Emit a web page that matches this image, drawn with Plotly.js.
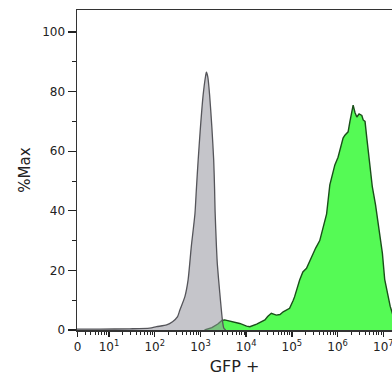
<!DOCTYPE html>
<html>
<head>
<meta charset="utf-8">
<script src="https://cdn.plot.ly/plotly-3.0.1.min.js"></script>
<style>
  html, body { margin: 0; padding: 0; background: #fff; overflow: hidden; }
  #chart { width: 392px; height: 383px; }
</style>
</head>
<body>
<div id="chart"></div>
<script>
// x values are in log10 (decade) units of the fluorescence axis
const controlLog = [0.29, 0.80, 1.45, 1.89, 2.04, 2.26, 2.39, 2.50, 2.55, 2.66, 2.73, 2.80, 2.88, 2.91, 2.95, 3.00, 3.06, 3.11, 3.13, 3.16, 3.20, 3.25, 3.29, 3.31, 3.32, 3.35, 3.37, 3.42, 3.48, 3.51, 3.55];
const controlPct = [0.3, 0.3, 0.4, 0.6, 1.1, 1.7, 2.8, 4.5, 6.7, 11.2, 16.8, 28, 39, 47, 57, 68, 79, 85, 86.5, 85, 79, 68, 57, 47, 40, 28, 22, 13, 3.4, 0.7, 0];

const gfpLog = [3.09, 3.25, 3.38, 3.47, 3.53, 3.64, 3.71, 3.86, 4.01, 4.08, 4.23, 4.30, 4.41, 4.47, 4.55, 4.66, 4.74, 4.81, 4.89, 4.95, 5.03, 5.06, 5.17, 5.24, 5.32, 5.39, 5.46, 5.52, 5.61, 5.68, 5.76, 5.83, 5.94, 6.01, 6.07, 6.12, 6.16, 6.23, 6.27, 6.34, 6.38, 6.42, 6.47, 6.53, 6.56, 6.60, 6.64, 6.72, 6.76, 6.83, 6.90, 6.98, 7.03, 7.09, 7.15, 7.21, 7.28, 7.39];
const gfpPct = [0, 0.8, 2.0, 3.2, 3.4, 3.0, 2.8, 2.2, 1.3, 1.1, 2.0, 2.6, 3.4, 4.5, 5.6, 5.0, 5.2, 6.1, 6.8, 7.3, 10, 11.2, 16.8, 19.5, 20.7, 23, 25.7, 27.5, 30, 34, 39, 48.7, 55.4, 58, 62, 64.4, 65.4, 66.5, 70, 75.5, 73, 71.5, 72.5, 72, 70.5, 70, 64.3, 52, 48, 42, 35, 25.7, 17, 12, 8, 5, 2, 0];

const xTickVals = [0.31, 1, 2, 3, 4, 5, 6, 7];
const xTickText = ["0", "10<sup>1</sup>", "10<sup>2</sup>", "10<sup>3</sup>", "10<sup>4</sup>", "10<sup>5</sup>", "10<sup>6</sup>", "10<sup>7</sup>"];
const yTickVals = [0, 20, 40, 60, 80, 100];
const yTickText = ["0", "20", "40", "60", "80", "100"];
const yMinorVals = [10, 30, 50, 70, 90];

// log minor ticks (2..9 within each decade)
const xMinorVals = [];
for (let d = 0; d <= 7; d++) {
  for (let k = 2; k <= 9; k++) {
    const v = d + Math.log10(k);
    if (v > 0.33 && v < 7.19) xMinorVals.push(v);
  }
}

const traces = [
  {
    x: gfpLog, y: gfpPct, type: 'scatter', mode: 'lines',
    fill: 'tozeroy', fillcolor: '#55fa55',
    line: { color: '#1a4f1a', width: 1.4 },
    hoverinfo: 'skip', showlegend: false
  },
  {
    x: controlLog, y: controlPct, type: 'scatter', mode: 'lines',
    fill: 'tozeroy', fillcolor: 'rgba(150,150,158,0.55)',
    line: { color: '#55555a', width: 1.3, shape: 'spline', smoothing: 0.6 },
    hoverinfo: 'skip', showlegend: false
  }
];

const layout = {
  width: 392, height: 383,
  margin: { l: 77, r: 0, t: 10, b: 53 },
  paper_bgcolor: '#ffffff', plot_bgcolor: '#ffffff',
  font: { family: 'DejaVu Sans, Verdana, sans-serif', size: 12, color: '#222' },
  xaxis: {
    range: [0.30, 7.19],
    showgrid: false, zeroline: false,
    showline: true, linecolor: '#333', linewidth: 1.5, mirror: true,
    tickmode: 'array', tickvals: xTickVals, ticktext: xTickText,
    ticks: 'outside', ticklen: 5, tickwidth: 1.5, tickcolor: '#222',
    ticklabeloverflow: 'allow',
    tickfont: { size: 12, color: '#222' },
    minor: { tickmode: 'array', tickvals: xMinorVals, ticks: 'outside', ticklen: 3, tickwidth: 1, tickcolor: '#222', showgrid: false },
    title: { text: 'GFP +', font: { size: 16, color: '#222' }, standoff: 8 }
  },
  yaxis: {
    range: [0, 107.4],
    showgrid: false, zeroline: false,
    showline: true, linecolor: '#333', linewidth: 1.5, mirror: false,
    tickmode: 'array', tickvals: yTickVals, ticktext: yTickText,
    ticks: 'outside', ticklen: 8, tickwidth: 1.3, tickcolor: '#222',
    tickfont: { size: 12, color: '#222' },
    minor: { tickmode: 'array', tickvals: yMinorVals, ticks: 'outside', ticklen: 4, tickwidth: 1, tickcolor: '#222', showgrid: false },
    title: { text: '%Max', font: { size: 15, color: '#222' }, standoff: 8 }
  }
};

Plotly.newPlot('chart', traces, layout, { displayModeBar: false, staticPlot: true });
</script>
</body>
</html>
